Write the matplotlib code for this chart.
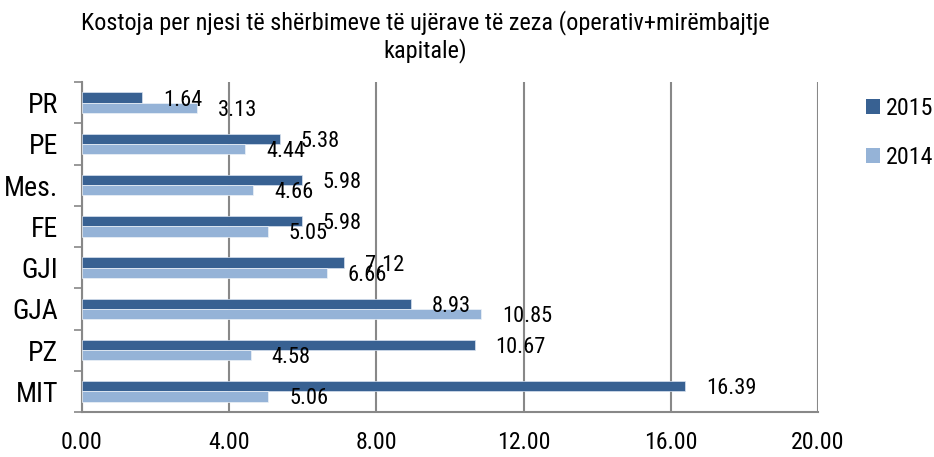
import matplotlib
matplotlib.use("Agg")
import matplotlib.pyplot as plt
from matplotlib.patches import Patch
from matplotlib import font_manager as fm
from matplotlib.font_manager import FontProperties
from matplotlib.textpath import TextPath
import numpy as np

categories = ["PR", "PE", "Mes.", "FE", "GJI", "GJA", "PZ", "MIT"]
values_2015 = [1.64, 5.38, 5.98, 5.98, 7.12, 8.93, 10.67, 16.39]
values_2014 = [3.13, 4.44, 4.66, 5.05, 6.66, 10.85, 4.58, 5.06]
series_names = ["2015", "2014"]
xticks = [0, 4, 8, 12, 16, 20]
title_lines = ["Kostoja per njesi të shërbimeve të ujërave të zeza (operativ+mirëmbajtje",
               "kapitale)"]

c2015 = "#386192"
c2014 = "#95B3D7"

# ---- choose an installed narrow sans close to Arial Narrow ----
cands = ["Liberation Sans Narrow", "Arial Narrow", "Roboto Condensed", "Archivo Narrow",
         "PT Sans Narrow", "Fira Sans Condensed", "IBM Plex Sans Condensed",
         "Barlow Semi Condensed", "Sofia Sans Semi Condensed", "Encode Sans Semi Condensed",
         "Asap Condensed", "Liberation Sans"]


def ink(text, fp):
    tp = TextPath((0, 0), text, size=100, prop=fp)
    bb = tp.get_extents()
    return bb.width / 100.0, bb.height / 100.0


best = None
for name in cands:
    ents = [f for f in fm.fontManager.ttflist
            if f.name == name and f.style == "normal" and str(f.weight) in ("400", "normal", "regular")]
    if not ents:
        continue
    fp = FontProperties(fname=ents[0].fname)
    try:
        w, h = ink("16.39", fp)
    except Exception:
        continue
    score = abs(w / h - 2.94)
    if best is None or score < best[0] - 0.05:
        best = (score, ents[0].fname)

FPATH = best[1] if best else None


def prop(size):
    if FPATH:
        p = FontProperties(fname=FPATH)
    else:
        p = FontProperties(family="DejaVu Sans")
    p.set_size(size)
    return p


base = prop(10)


def fit(text, w_px, h_px):
    w, h = ink(text, base)
    sw = w_px / w * 0.72
    sh = h_px / h * 0.72
    return (sw * sh) ** 0.5


label_pt = fit("16.39", 48, 16)
xtick_pt = fit("0.00", 40, 17)
ytick_pt = fit("PR", 29, 19)
leg_pt = fit("2015", 44, 18)
w_t, _ = ink(title_lines[0], base)
_, h_t = ink("K", base)
title_pt = ((694 / w_t * 0.72) * (16.5 / h_t * 0.72)) ** 0.5 * 1.02

fig = plt.figure(figsize=(9.34, 4.57), dpi=100)
ax = fig.add_axes([82/934, 45/457, 736/934, 330/457])

y = np.arange(len(categories))
h = 0.25
ax.barh(y - h/2, values_2015, height=h, color=c2015, edgecolor="#d8e2ef", linewidth=0.5, zorder=3)
ax.barh(y + h/2, values_2014, height=h, color=c2014, edgecolor="#eef2f8", linewidth=0.5, zorder=3)

for yi, v in zip(y, values_2015):
    ax.annotate(f"{v:.2f}", (v, yi - h/2), xytext=(15, -5.8), textcoords="offset points",
                ha="left", va="baseline", fontproperties=prop(label_pt), zorder=4)
for yi, v in zip(y, values_2014):
    ax.annotate(f"{v:.2f}", (v, yi + h/2), xytext=(15, -5.6), textcoords="offset points",
                ha="left", va="baseline", fontproperties=prop(label_pt), zorder=4)

ax.set_xlim(0, 20)
ax.set_ylim(len(categories) - 0.5, -0.5)
ax.set_xticks(xticks)
ax.set_xticklabels([f"{t:.2f}" for t in xticks], fontproperties=prop(xtick_pt))
ax.set_yticks(y)
ax.set_yticklabels(categories, fontproperties=prop(ytick_pt), va="center_baseline")
ax.set_yticks(np.arange(len(categories) + 1) - 0.5, minor=True)
ax.tick_params(axis="y", which="major", length=0, pad=17)
ax.tick_params(axis="y", which="minor", length=6, width=1.2, color="#888888")
ax.tick_params(axis="x", length=0, pad=14)
ax.grid(axis="x", color="#888888", linewidth=1.5, zorder=0)
for s in ["top", "right"]:
    ax.spines[s].set_visible(False)
for s in ["left", "bottom"]:
    ax.spines[s].set_color("#888888")
    ax.spines[s].set_linewidth(1.5)

fig.text(425/934, 1 - 29/457, title_lines[0], ha="center", va="baseline", fontproperties=prop(title_pt))
fig.text(425/934, 1 - 57/457, title_lines[1], ha="center", va="baseline", fontproperties=prop(title_pt))

em = leg_pt * 100 / 72
handles = [Patch(facecolor=c2015), Patch(facecolor=c2014)]
fig.legend(handles, series_names, loc="center left", bbox_to_anchor=(866/934, 1 - 133/457),
           frameon=False, prop=prop(leg_pt), handlelength=14/em, handleheight=14/em,
           handletextpad=6/em, labelspacing=(53 - 1.15*em)/em, borderpad=0, borderaxespad=0)

fig.savefig("out.png", dpi=100)
